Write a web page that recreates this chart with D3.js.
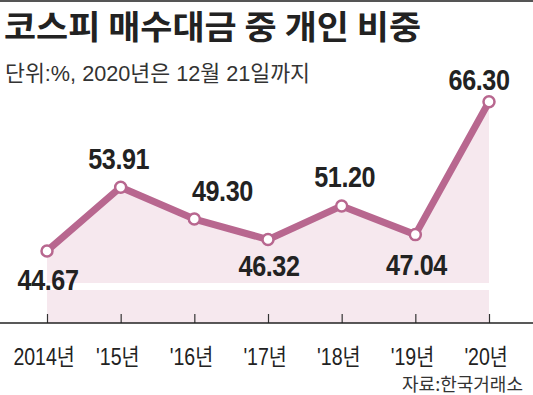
<!DOCTYPE html>
<html>
<head>
<meta charset="utf-8">
<script src="https://cdn.jsdelivr.net/npm/d3@7"></script>
<style>
  body { margin: 0; background: #fff; }
  svg { display: block; }
</style>
</head>
<body>
<svg width="533" height="395"></svg>
<script>
// 데이터
var years = ['2014', '2015', '2016', '2017', '2018', '2019', '2020'];
var tickLabels = ['2014년', "'15년", "'16년", "'17년", "'18년", "'19년", "'20년"];
var shares = [44.67, 53.91, 49.30, 46.32, 51.20, 47.04, 66.30];
// 값 라벨 위치 (점 기준 dx, dy)
var labelDx = [1, -2, 28, 1, 3, 1, -10];
var labelDy = [39, -18, -18, 36, -19, 40, -12];

var svg = d3.select("svg"),
    width = +svg.attr("width"),
    height = +svg.attr("height"),
    axisY = 323;

var mauve = "#b8678f",
    pink = "#f6e8ee";

// 상단 선
svg.append("rect").attr("x", 0).attr("y", 0).attr("width", width).attr("height", 2).attr("fill", "#555");

// 제목
svg.append("text")
    .attr("x", 4).attr("y", 39)
    .attr("font-family", "'Noto Sans CJK KR'")
    .attr("font-weight", "bold")
    .attr("font-size", 33)
    .attr("textLength", 417)
    .attr("lengthAdjust", "spacingAndGlyphs")
    .attr("fill", "#222")
    .text("코스피 매수대금 중 개인 비중");

svg.append("text")
    .attr("x", 5).attr("y", 81)
    .attr("font-family", "'Liberation Sans', 'Noto Sans CJK KR'")
    .attr("font-size", 22)
    .attr("textLength", 305)
    .attr("lengthAdjust", "spacingAndGlyphs")
    .attr("fill", "#333")
    .text("단위:%, 2020년은 12월 21일까지");

var x = d3.scalePoint()
    .domain(years)
    .range([47, 489]);

var y = d3.scaleLinear()
    .domain([30, 70])
    .range([352.2, 76.2]);

// 영역
var area = d3.area()
    .x(function(d, i) { return x(years[i]); })
    .y0(axisY)
    .y1(function(d) { return y(d); });

svg.append("path")
    .datum(shares)
    .attr("d", area)
    .attr("fill", pink);

// 생략 구간 (흰 띠)
svg.append("rect")
    .attr("x", x(years[0]))
    .attr("y", 283)
    .attr("width", x(years[years.length - 1]) - x(years[0]))
    .attr("height", 7)
    .attr("fill", "#fff");

// X축
var xAxis = svg.append("g")
    .attr("transform", "translate(0," + axisY + ")")
    .call(d3.axisBottom(x).tickSize(-9).tickFormat(function(d, i) { return tickLabels[i]; }));

xAxis.select(".domain").remove();
xAxis.selectAll(".tick line").attr("stroke", "#333").attr("stroke-width", 1.2);
xAxis.selectAll(".tick text")
    .attr("y", 26)
    .attr("x", -4)
    .attr("transform", "scale(0.85,1)")
    .attr("font-family", "'Liberation Sans', 'Noto Sans CJK KR'")
    .attr("font-size", 23)
    .attr("fill", "#222");

svg.append("line")
    .attr("x1", 0).attr("x2", width)
    .attr("y1", axisY).attr("y2", axisY)
    .attr("stroke", "#222")
    .attr("stroke-width", 1.5);

// 선
var line = d3.line()
    .x(function(d, i) { return x(years[i]); })
    .y(function(d) { return y(d); });

svg.append("path")
    .datum(shares)
    .attr("d", line)
    .attr("fill", "none")
    .attr("stroke", mauve)
    .attr("stroke-width", 7)
    .attr("stroke-linejoin", "round");

svg.selectAll(".dot")
    .data(shares)
    .enter().append("circle")
    .attr("class", "dot")
    .attr("cx", function(d, i) { return x(years[i]); })
    .attr("cy", function(d) { return y(d); })
    .attr("r", 5.5)
    .attr("fill", "#fff")
    .attr("stroke", mauve)
    .attr("stroke-width", 2.5);

// 값 라벨 (가로로 좁힌 굵은 글꼴)
svg.selectAll(".val")
    .data(shares)
    .enter().append("text")
    .attr("class", "val")
    .attr("transform", function(d, i) {
      return "translate(" + (x(years[i]) + labelDx[i]) + "," + (y(d) + labelDy[i]) + ") scale(0.84,1)";
    })
    .attr("text-anchor", "middle")
    .attr("font-family", "'Liberation Sans'")
    .attr("font-weight", "bold")
    .attr("font-size", 30)
    .attr("letter-spacing", -0.5)
    .attr("fill", "#222")
    .text(function(d) { return d.toFixed(2); });

// 출처
svg.append("text")
    .attr("x", 523).attr("y", 390.5)
    .attr("text-anchor", "end")
    .attr("font-family", "'Noto Sans CJK KR'")
    .attr("font-size", 18)
    .attr("fill", "#333")
    .text("자료:한국거래소");
</script>
</body>
</html>
